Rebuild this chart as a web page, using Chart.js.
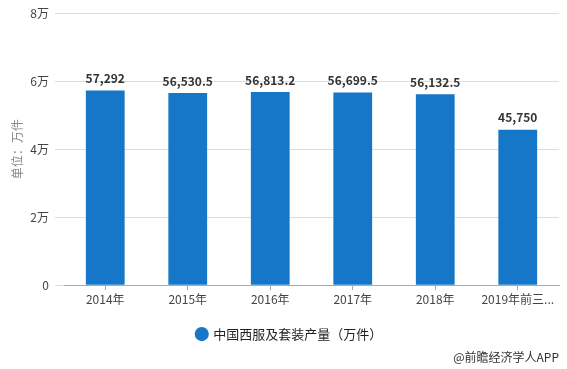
<!DOCTYPE html>
<html>
<head>
<meta charset="utf-8">
<script src="https://cdn.jsdelivr.net/npm/chart.js@4/dist/chart.umd.min.js"></script>
<style>
  html, body { margin: 0; padding: 0; background: #fff; }
  #wrap { width: 567px; height: 369px; }
</style>
</head>
<body>
<div id="wrap"><canvas id="suitChart" width="567" height="369"></canvas></div>
<script>
const years = ['2014年', '2015年', '2016年', '2017年', '2018年', '2019年前三...']
const output = [57292, 56530.5, 56813.2, 56699.5, 56132.5, 45750]
const yTicks = [0, 20000, 40000, 60000, 80000]
const seriesName = '中国西服及套装产量（万件）'
const footerText = '@前瞻经济学人APP'

const fontFamily = '"Noto Sans CJK SC", "Noto Sans", sans-serif'

// value labels over each bar
const barLabels = {
    id: 'barLabels',
    afterDatasetsDraw(chart) {
        const ctx = chart.ctx
        const meta = chart.getDatasetMeta(0)
        ctx.save()
        ctx.font = 'bold 12px ' + fontFamily
        ctx.fillStyle = '#333'
        ctx.textAlign = 'center'
        ctx.textBaseline = 'bottom'
        meta.data.forEach(function(bar, i) {
            ctx.fillText(output[i].toLocaleString('en-US'), bar.x, bar.y - 6)
        })
        ctx.restore()
    }
}

// nudge the legend a little right, like the original
const legendShift = {
    id: 'legendShift',
    afterLayout(chart) {
        if (chart.legend) {
            chart.legend.left += 10
            chart.legend.right += 10
        }
    }
}

var ctx = document.getElementById('suitChart')
new Chart(ctx, {
    type: 'bar',
    data: {
        labels: years,
        datasets: [
            {
                label: seriesName,
                data: output,
                backgroundColor: '#1677c8',
                borderWidth: 0,
                barPercentage: 0.47,
                categoryPercentage: 1
            }
        ]
    },
    options: {
        responsive: false,
        animation: false,
        layout: {
            padding: { top: 6, right: 8, left: 0, bottom: 4 }
        },
        scales: {
            x: {
                offset: true,
                afterFit: function(scale) {
                    scale.height += 7
                },
                grid: {
                    offset: false,
                    drawOnChartArea: false,
                    drawTicks: true,
                    tickLength: 5,
                    color: '#aaa'
                },
                border: { display: true, color: '#aaa' },
                ticks: {
                    color: '#444',
                    padding: 2,
                    maxRotation: 0,
                    autoSkip: false,
                    font: { family: fontFamily, size: 12 }
                }
            },
            y: {
                min: 0,
                max: 80000,
                afterBuildTicks: function(scale) {
                    scale.ticks = yTicks.map(function(v) { return { value: v } })
                },
                afterFit: function(scale) {
                    scale.width = 64
                },
                grid: {
                    color: '#ddd',
                    tickLength: 9
                },
                border: { display: false },
                ticks: {
                    color: '#444',
                    padding: 6,
                    font: { family: fontFamily, size: 12 },
                    callback: function(v) {
                        return v === 0 ? '0' : (v / 10000) + '万'
                    }
                },
                title: {
                    display: true,
                    text: '单位：万件',
                    color: '#888',
                    padding: { top: 10, bottom: 0 },
                    font: { family: fontFamily, size: 12 }
                }
            }
        },
        plugins: {
            legend: {
                position: 'bottom',
                labels: {
                    usePointStyle: true,
                    pointStyle: 'circle',
                    boxWidth: 10,
                    boxHeight: 10,
                    color: '#222',
                    padding: 12,
                    font: { family: fontFamily, size: 13 }
                }
            },
            subtitle: {
                display: true,
                position: 'bottom',
                align: 'end',
                text: footerText,
                color: '#333',
                padding: { top: 0, bottom: 0 },
                font: { family: fontFamily, size: 12 }
            },
            tooltip: { enabled: false }
        }
    },
    plugins: [barLabels, legendShift]
})
</script>
</body>
</html>
